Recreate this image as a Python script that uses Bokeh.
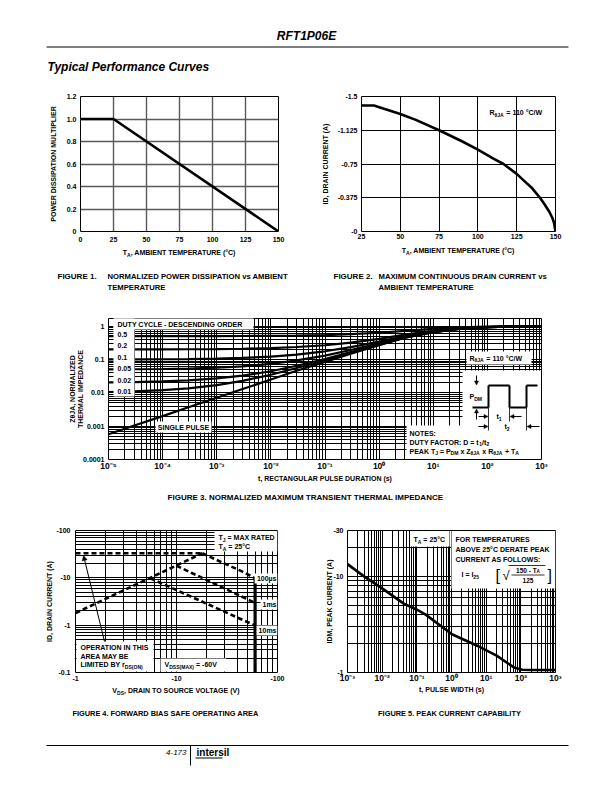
import math
from bokeh.plotting import figure
from bokeh.layouts import column, row
from bokeh.models import (Range1d, FixedTicker, CustomJSTickFormatter, Label,
                          BoxAnnotation, Arrow, NormalHead)
from bokeh.embed import file_html
from bokeh.resources import INLINE

FONT = "Liberation Sans"

# ---------------- data ----------------
fig1_temp = [0, 25, 150]
fig1_mult = [1.0, 1.0, 0.0]
fig1_xticks = [0, 25, 50, 75, 100, 125, 150]
fig1_yticks = [0, 0.2, 0.4, 0.6, 0.8, 1.0, 1.2]

fig2_temp = [25, 33, 40, 50, 60, 75, 90, 100, 110, 116.5, 125, 130, 135, 140, 143, 146, 148, 149, 150]
fig2_id = [-1.4, -1.4, -1.36, -1.305, -1.24, -1.125, -1.0, -0.91, -0.81, -0.75, -0.64,
           -0.56, -0.48, -0.375, -0.3, -0.22, -0.15, -0.1, 0.0]
fig2_xticks = [25, 50, 75, 100, 125, 150]
fig2_yticks = [0, -0.375, -0.75, -1.125, -1.5]

fig3_t = [1e-5, 3e-5, 1e-4, 3e-4, 1e-3, 3e-3, 1e-2, 3e-2, 1e-1, 3e-1, 1, 3, 10, 30, 100, 300, 1000]
fig3_d050 = [0.50, 0.50, 0.501, 0.502, 0.504, 0.507, 0.512, 0.523, 0.542, 0.575, 0.635, 0.725, 0.83, 0.915, 0.965, 0.99, 1.0]
fig3_d020 = [0.2005, 0.2008, 0.2016, 0.203, 0.2057, 0.21, 0.22, 0.237, 0.268, 0.32, 0.416, 0.56, 0.73, 0.864, 0.944, 0.984, 1.0]
fig3_d010 = [0.1005, 0.1009, 0.1018, 0.1033, 0.1064, 0.1117, 0.1225, 0.141, 0.1765, 0.235, 0.343, 0.505, 0.694, 0.847, 0.937, 0.982, 1.0]
fig3_d005 = [0.0505, 0.051, 0.0519, 0.0535, 0.0567, 0.0624, 0.0738, 0.0937, 0.131, 0.1925, 0.3065, 0.4775, 0.677, 0.8385, 0.9335, 0.981, 1.0]
fig3_d002 = [0.0206, 0.021, 0.022, 0.0236, 0.027, 0.0327, 0.0445, 0.065, 0.103, 0.167, 0.285, 0.461, 0.667, 0.833, 0.931, 0.98, 1.0]
fig3_d001 = [0.0106, 0.011, 0.012, 0.0137, 0.017, 0.0229, 0.0348, 0.0555, 0.094, 0.159, 0.277, 0.455, 0.663, 0.832, 0.93, 0.98, 1.0]
fig3_single = [0.00057, 0.00105, 0.002, 0.0037, 0.0071, 0.013, 0.025, 0.046, 0.085, 0.15, 0.27, 0.45, 0.66, 0.83, 0.93, 0.98, 1.0]
fig3_duty_labels = ["0.5", "0.2", "0.1", "0.05", "0.02", "0.01"]

fig4_rds_v = [1, 18]
fig4_rds_i = [1.8, 33]
fig4_lim_v = [1, 18]
fig4_lim_i = [33, 33]
fig4_100us_v = [18, 30, 45, 59]
fig4_100us_i = [33, 20, 13.5, 10]
fig4_1ms_v = [10, 59]
fig4_1ms_i = [18, 3.0]
fig4_10ms_v = [5.5, 59]
fig4_10ms_i = [9.8, 1.0]
fig4_vdss_v = [60, 60]
fig4_vdss_i = [0.1, 10]

fig5_t = [1e-3, 3e-3, 1e-2, 4.2e-2, 1e-1, 1.8e-1, 1.03, 5.5, 20, 63, 110, 200, 1000]
fig5_i = [13.4, 10.0, 7.5, 5.2, 4.5, 4.0, 2.5, 1.9, 1.5, 1.13, 1.07, 1.06, 1.06]

# ---------------- text helpers ----------------
CW = {' ': 278, '!': 333, '(': 333, ')': 333, ',': 278, '-': 333, '.': 278, '/': 278,
      ':': 333, '=': 584, '+': 584, '°': 400, '[': 333, ']': 333, 'µ': 611, 'θ': 680,
      'A': 722, 'B': 722, 'C': 722, 'D': 722, 'E': 667, 'F': 611, 'G': 778, 'H': 722,
      'I': 278, 'J': 556, 'K': 722, 'L': 611, 'M': 833, 'N': 722, 'O': 778, 'P': 667,
      'Q': 778, 'R': 722, 'S': 667, 'T': 611, 'U': 722, 'V': 667, 'W': 944, 'X': 667,
      'Y': 667, 'Z': 611, 'a': 556, 'b': 611, 'c': 556, 'd': 611, 'e': 556, 'f': 333,
      'g': 611, 'h': 611, 'i': 278, 'j': 278, 'k': 556, 'l': 278, 'm': 889, 'n': 611,
      'o': 611, 'p': 611, 'q': 611, 'r': 389, 's': 556, 't': 333, 'u': 611, 'v': 556,
      'w': 778, 'x': 556, 'y': 556, 'z': 500}


def tw(s, size):
    return sum(CW.get(c, 556) for c in s) * size / 1000.0


class Panel:
    """Places annotations using page coordinates (px from page top-left)."""

    def __init__(self, p, ox, oy, left, top, fh):
        self.p = p
        self.fl = ox + left
        self.fb = oy + top + fh

    def sx(self, X):
        return X - self.fl

    def sy(self, Y):
        return self.fb - Y

    def text(self, X, Y, s, size=7, align='left', angle=0.0, style='bold', baseline='middle'):
        self.p.add_layout(Label(x=self.sx(X), y=self.sy(Y), x_units='screen', y_units='screen',
                                text=s, text_font=FONT, text_font_size=f"{size}px",
                                text_font_style=style, text_align=align, text_baseline=baseline,
                                angle=angle, text_color='black'))

    def rich(self, X, Y, segs, size=7, align='left', style='bold'):
        sub = 0.72
        widths = [tw(t, size if m == 'n' else size * sub) for t, m in segs]
        total = sum(widths)
        pos = 0 if align == 'left' else (-total / 2 if align == 'center' else -total)
        for (t, m), w in zip(segs, widths):
            sz = size if m == 'n' else size * sub
            d = 0 if m == 'n' else (0.3 * size if m == 'sub' else -0.38 * size)
            lead = len(t) - len(t.lstrip(' '))
            s = t.strip(' ')
            if s:
                self.text(X + pos + tw(' ' * lead, sz), Y + d, s, round(sz, 2), 'left', style=style)
            pos += w

    def box(self, X0, Y0, X1, Y1):
        self.p.add_layout(BoxAnnotation(left=self.sx(X0), right=self.sx(X1), top=self.sy(Y0),
                                        bottom=self.sy(Y1), left_units='screen', right_units='screen',
                                        top_units='screen', bottom_units='screen',
                                        fill_color='white', fill_alpha=1.0, line_color=None))

    def seg(self, X0, Y0, X1, Y1, width=1.0, head=False, hs=4):
        end = NormalHead(size=hs, fill_color='black', line_color='black', line_width=0.5) if head else None
        self.p.add_layout(Arrow(x_start=self.sx(X0), y_start=self.sy(Y0), x_end=self.sx(X1),
                                y_end=self.sy(Y1), start_units='screen', end_units='screen',
                                end=end, line_color='black', line_width=width))


def make_fig(w, h, left, right, top, bottom, xr, yr, xtype='linear', ytype='linear', axes=True):
    kw = dict(width=w, height=h, x_range=xr, y_range=yr, x_axis_type=xtype, y_axis_type=ytype,
              output_backend='svg', toolbar_location=None, min_border_left=left,
              min_border_right=right, min_border_top=top, min_border_bottom=bottom)
    if not axes:
        kw.update(x_axis_location=None, y_axis_location=None)
    p = figure(**kw)
    p.background_fill_color = 'white'
    p.border_fill_color = 'white'
    if axes:
        p.outline_line_color = 'black'
        p.outline_line_width = 1
    else:
        p.outline_line_color = None
        p.xgrid.visible = False
        p.ygrid.visible = False
    return p


def text_fig(w, h):
    return make_fig(w, h, 0, 0, 0, 0, Range1d(0, 1), Range1d(0, 1), axes=False)


def style_axes(p, xticks, yticks, xcode, ycode, xgrid, ygrid, xs=4, ys=4, gcolor='black',
               gwidth=1.0, ylabel=None, ylstand=4, xsize='7px'):
    p.xaxis.ticker = FixedTicker(ticks=xticks, minor_ticks=[])
    p.yaxis.ticker = FixedTicker(ticks=yticks, minor_ticks=[])
    p.xaxis.formatter = CustomJSTickFormatter(code=xcode)
    p.yaxis.formatter = CustomJSTickFormatter(code=ycode)
    for ax in p.axis:
        ax.axis_line_color = None
        ax.major_tick_line_color = None
        ax.minor_tick_line_color = None
        ax.major_tick_out = 0
        ax.major_tick_in = 0
        ax.minor_tick_out = 0
        ax.minor_tick_in = 0
        ax.major_label_text_font = FONT
        ax.major_label_text_font_style = 'bold'
        ax.major_label_text_font_size = '7px'
        ax.major_label_text_color = 'black'
        ax.axis_label_text_font = FONT
        ax.axis_label_text_font_style = 'bold'
        ax.axis_label_text_font_size = '7px'
        ax.axis_label_text_color = 'black'
    p.xaxis.major_label_text_font_size = xsize
    p.xaxis.major_label_standoff = xs
    p.yaxis.major_label_standoff = ys
    if ylabel is not None:
        p.yaxis.axis_label = ylabel
        p.yaxis.axis_label_standoff = ylstand
    p.xgrid.ticker = FixedTicker(ticks=xgrid, minor_ticks=[])
    p.ygrid.ticker = FixedTicker(ticks=ygrid, minor_ticks=[])
    for g in (p.xgrid, p.ygrid):
        g.grid_line_color = gcolor
        g.grid_line_width = gwidth
        g.grid_line_alpha = 1.0


SUPJS = """
const e = Math.round(Math.log10(tick));
const sup = {"-":"\u207b","0":"\u2070","1":"\u00b9","2":"\u00b2","3":"\u00b3","4":"\u2074","5":"\u2075","6":"\u2076","7":"\u2077","8":"\u2078","9":"\u2079"};
return "10" + String(e).split("").map(c => sup[c]).join("");
"""

CAP = 8

# ---------------- header (page y 0..75) ----------------
ph = text_fig(612, 75)
H = Panel(ph, 0, 0, 0, 0, 75)
H.text(306, 35, "RFT1P06E", 12, 'center', style='bold italic')
H.seg(46, 46.5, 568, 46.5, 1.0)
H.text(47, 66, "Typical Performance Curves", 12, 'left', style='bold italic')

# ---------------- figure 1 (page y 75..246, x 0..306) ----------------
p1 = make_fig(306, 171, 80, 28, 21, 15, Range1d(0, 150), Range1d(0, 1.2))
style_axes(p1, fig1_xticks, fig1_yticks, "return tick.toFixed(0);",
           "return tick == 0 ? '0' : tick.toFixed(1);", fig1_xticks, fig1_yticks,
           xs=5, ys=4, gcolor='#5a5a5a', gwidth=1.4,
           ylabel="POWER DISSIPATION MULTIPLIER", ylstand=7)
p1.line(fig1_temp, fig1_mult, line_color='black', line_width=2.6)

# ---------------- figure 2 (page y 75..246, x 306..612) ----------------
p2 = make_fig(306, 171, 55, 57, 21, 15, Range1d(25, 150), Range1d(0, -1.5))
style_axes(p2, fig2_xticks, fig2_yticks, "return tick.toFixed(0);",
           "return tick == 0 ? '-0' : String(tick);", [50, 75, 100, 125], [-0.375, -0.75, -1.125],
           xs=2, ys=4, ylabel="ID, DRAIN CURRENT (A)", ylstand=6)
p2.line(fig2_temp, fig2_id, line_color='black', line_width=2.6)
P2 = Panel(p2, 306, 75, 55, 21, 135)
P2.rich(489, 112, [("R", 'n'), ("θJA", 'sub'), (" = 110 °C/W", 'n')], 7)

# ---------------- captions row 1 (page y 246..300) ----------------
c1 = text_fig(612, 54)
C1 = Panel(c1, 0, 246, 0, 0, 54)
C1.rich(179, 252, [("T", 'n'), ("A", 'sub'), (", AMBIENT TEMPERATURE (°C)", 'n')], 7, 'center')
C1.rich(458, 250, [("T", 'n'), ("A", 'sub'), (", AMBIENT TEMPERATURE (°C)", 'n')], 7, 'center')
C1.text(57, 276, "FIGURE 1.", CAP)
C1.text(107, 276, "NORMALIZED POWER DISSIPATION vs AMBIENT", 7.7)
C1.text(107, 287, "TEMPERATURE", 7.7)
C1.text(333, 276, "FIGURE 2.", CAP)
C1.text(378, 276, "MAXIMUM CONTINUOUS DRAIN CURRENT vs", 7.7)
C1.text(378, 287, "AMBIENT TEMPERATURE", 7.7)

# ---------------- figure 3 (page y 300..473) ----------------
g3x = [k * 10.0 ** e for e in range(-5, 3) for k in range(1, 10)] + [1000.0]
g3y = [k * 10.0 ** e for e in range(-4, 0) for k in range(1, 10)] + [1.0]
p3 = make_fig(612, 173, 108, 71, 18, 12, Range1d(1e-5, 1e3), Range1d(1e-4, 1.7), 'log', 'log')
style_axes(p3, [10.0 ** e for e in range(-5, 4)], [10.0 ** e for e in range(-4, 1)], SUPJS,
           "return tick >= 1 ? '1' : tick.toFixed(Math.round(-Math.log10(tick)));", g3x, g3y,
           xs=1, ys=4, ylabel="ZθJA, NORMALIZED\nTHERMAL IMPEDANCE", ylstand=-4, xsize='8.5px')
for series in (fig3_d050, fig3_d020, fig3_d010, fig3_d005, fig3_d002, fig3_d001, fig3_single):
    p3.line(fig3_t, series, line_color='black', line_width=2.2)
P3 = Panel(p3, 0, 300, 108, 18, 143)
P3.box(113, 319, 253, 331)
P3.box(113, 319, 134, 398)
P3.text(117, 325.5, "DUTY CYCLE - DESCENDING ORDER", 7)
for lbl, yy in zip(fig3_duty_labels, [336, 347, 358.5, 370, 381.5, 393]):
    P3.text(117, yy, lbl, 7)
P3.box(155, 423, 211, 434)
P3.text(183, 428.5, "SINGLE PULSE", 7, 'center')
P3.box(466, 353, 531, 366)
P3.rich(469, 359.5, [("R", 'n'), ("θJA", 'sub'), (" = 110 °C/W", 'n')], 7)
P3.box(462, 372, 540.5, 460.5)
P3.box(406, 427, 540.5, 460.5)
wave = [(472, 409), (488, 409), (488, 387), (509, 387), (509, 409), (526, 409), (526, 387), (537, 387)]
for (xa, ya), (xb, yb) in zip(wave[:-1], wave[1:]):
    P3.seg(xa, ya, xb, yb, 2.0)
P3.rich(469, 398, [("P", 'n'), ("DM", 'sub')], 7)
P3.seg(476, 377, 476, 386.5, 1.0, head=True)
P3.seg(476, 421, 476, 410.5, 1.0, head=True)
P3.seg(488, 409, 488, 432, 0.8)
P3.seg(509, 409, 509, 423, 0.8)
P3.seg(526, 409, 526, 432, 0.8)
P3.seg(478, 418, 487.5, 418, 1.0, head=True)
P3.seg(521, 418, 509.5, 418, 1.0, head=True)
P3.rich(496, 418, [("t", 'n'), ("1", 'sub')], 7)
P3.seg(478, 428, 487.5, 428, 1.0, head=True)
P3.seg(539, 428, 526.5, 428, 1.0, head=True)
P3.rich(504, 428, [("t", 'n'), ("2", 'sub')], 7)
P3.text(409, 434.5, "NOTES:", 7)
P3.rich(409, 443.5, [("DUTY FACTOR: D = t", 'n'), ("1", 'sub'), ("/t", 'n'), ("2", 'sub')], 7)
P3.rich(409, 452.5, [("PEAK T", 'n'), ("J", 'sub'), (" = P", 'n'), ("DM", 'sub'), (" x Z", 'n'),
                     ("θJA", 'sub'), (" x R", 'n'), ("θJA", 'sub'), (" + T", 'n'), ("A", 'sub')], 7)

# ---------------- caption 3 (page y 473..510) ----------------
c3 = text_fig(612, 37)
C3 = Panel(c3, 0, 473, 0, 0, 37)
C3.text(324.5, 478, "t, RECTANGULAR PULSE DURATION (s)", 7, 'center')
C3.text(306, 497, "FIGURE 3.  NORMALIZED MAXIMUM TRANSIENT THERMAL IMPEDANCE", CAP, 'center')

# ---------------- figure 4 (page y 510..685, x 0..306) ----------------
g4 = [k * 10.0 ** e for e in range(-1, 2) for k in range(1, 10)] + [100.0]
p4 = make_fig(306, 175, 75, 29, 20, 13, Range1d(1, 100), Range1d(0.1, 100), 'log', 'log')
style_axes(p4, [1, 10, 100], [0.1, 1, 10, 100], "return '-' + tick.toFixed(0);",
           "return '-' + (tick < 1 ? tick.toFixed(1) : tick.toFixed(0));",
           [v for v in g4 if v >= 1], g4, xs=3, ys=5, ylabel="ID, DRAIN CURRENT (A)", ylstand=0)
for xs_, ys_ in ((fig4_rds_v, fig4_rds_i), (fig4_lim_v, fig4_lim_i), (fig4_100us_v, fig4_100us_i),
                 (fig4_1ms_v, fig4_1ms_i), (fig4_10ms_v, fig4_10ms_i)):
    p4.line(xs_, ys_, line_color='black', line_width=2.6, line_dash="5 3")
p4.line(fig4_vdss_v, fig4_vdss_i, line_color='black', line_width=3.2)
P4 = Panel(p4, 0, 510, 75, 20, 142)
P4.box(214, 530.5, 277, 551)
P4.rich(218, 537, [("T", 'n'), ("J", 'sub'), (" = MAX RATED", 'n')], 7)
P4.rich(218, 546, [("T", 'n'), ("A", 'sub'), (" = 25°C", 'n')], 7)
for lbl, yy in (("100µs", 578), ("1ms", 604), ("10ms", 630)):
    w = tw(lbl, 7)
    P4.box(276 - w - 2, yy - 5, 277, yy + 5)
    P4.text(276, yy, lbl, 7, 'right')
P4.box(76, 641, 153, 671)
P4.text(80, 647, "OPERATION IN THIS", 7)
P4.text(80, 655.5, "AREA MAY BE", 7)
P4.rich(80, 664, [("LIMITED BY r", 'n'), ("DS(ON)", 'sub')], 7)
P4.seg(104, 641, 83, 555, 1.0, head=True, hs=5)
P4.box(160, 658, 226, 671)
P4.rich(164, 664, [("V", 'n'), ("DSS(MAX)", 'sub'), (" = -60V", 'n')], 7)

# ---------------- figure 5 (page y 510..685, x 306..612) ----------------
g5x = [k * 10.0 ** e for e in range(-3, 3) for k in range(1, 10)] + [1000.0]
g5y = [k * 10.0 ** e for e in range(0, 2) for k in range(1, 10)]
p5 = make_fig(306, 175, 41, 57, 20, 13, Range1d(1e-3, 1e3), Range1d(1, 30), 'log', 'log')
style_axes(p5, [10.0 ** e for e in range(-3, 4)], [1, 10, 30], SUPJS,
           "return '-' + tick.toFixed(0);", g5x, [v for v in g5y if v <= 30], xs=0, ys=4,
           ylabel="IDM, PEAK CURRENT (A)", ylstand=-3, xsize='8.5px')
p5.line(fig5_t, fig5_i, line_color='black', line_width=2.6)
P5 = Panel(p5, 306, 510, 41, 20, 142)
P5.box(410, 530.5, 449, 546)
P5.rich(413, 539, [("T", 'n'), ("A", 'sub'), (" = 25°C", 'n')], 7)
P5.box(451, 530.5, 555, 588)
P5.text(455, 539, "FOR TEMPERATURES", 7)
P5.text(455, 549, "ABOVE 25°C DERATE PEAK", 7)
P5.text(455, 559, "CURRENT AS FOLLOWS:", 7)
P5.rich(461, 574, [("I = I", 'n'), ("25", 'sub')], 7)
P5.text(495, 574.5, "[", 16, 'left', style='normal')
P5.text(502, 575, "√", 13, 'left', style='normal')
P5.seg(508, 565, 545, 565, 0.8)
P5.seg(511, 574.5, 544, 574.5, 0.8)
P5.rich(527.5, 569.5, [("150 - T", 'n'), ("A", 'sub')], 6.5, 'center')
P5.text(527.5, 580, "125", 6.5, 'center')
P5.text(547, 574.5, "]", 16, 'left', style='normal')

# ---------------- captions row 2 (page y 685..725) ----------------
c2 = text_fig(612, 40)
C2 = Panel(c2, 0, 685, 0, 0, 40)
C2.rich(176, 690, [("V", 'n'), ("DS", 'sub'), (", DRAIN TO SOURCE VOLTAGE (V)", 'n')], 7, 'center')
C2.text(451, 688.5, "t, PULSE WIDTH (s)", 7, 'center')
C2.text(166, 713, "FIGURE 4.  FORWARD BIAS SAFE OPERATING AREA", 7.4, 'center')
C2.text(450, 713, "FIGURE 5.  PEAK CURRENT CAPABILITY", 7.4, 'center')

# ---------------- footer (page y 725..792) ----------------
pf = text_fig(612, 67)
F = Panel(pf, 0, 725, 0, 0, 67)
F.seg(46, 745, 568, 745, 1.0)
F.seg(190, 745, 190, 765, 1.0)
F.text(186, 752, "4-173", 8, 'right', style='italic')
F.text(196, 752, "intersil", 10, 'left', style='bold')
F.seg(195, 757.5, 222, 757.5, 1.2)

layout = column(row(ph), row(p1, p2), row(c1), row(p3), row(c3), row(p4, p5), row(c2), row(pf))
open("out.html", "w").write(file_html(layout, INLINE))
